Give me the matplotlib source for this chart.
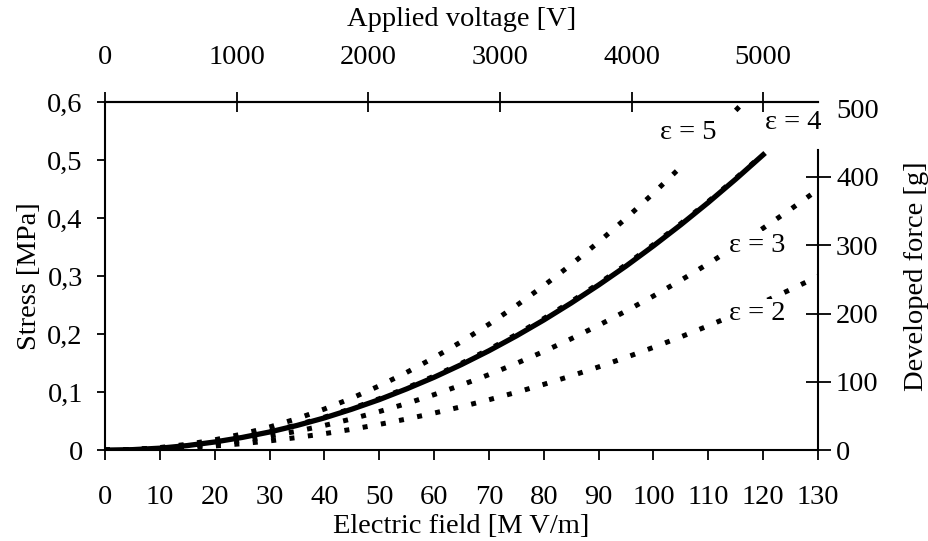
import numpy as np
import matplotlib
matplotlib.use('Agg')
import matplotlib.pyplot as plt

plt.rcParams['font.family'] = ['Liberation Serif', 'DejaVu Serif']
plt.rcParams['font.size'] = 20.5

# -------------------------------
# data (stress in MPa vs electric field in MV/m)
# -------------------------------
field = [0, 5, 10, 15, 20, 25, 30, 35, 40, 45, 50, 55, 60, 65,
         70, 75, 80, 85, 90, 95, 100, 105, 110, 115, 120, 125, 130]

stress_eps2 = [0, 0.0004, 0.0018, 0.0040, 0.0071, 0.0111, 0.0159, 0.0217, 0.0283,
               0.0359, 0.0443, 0.0536, 0.0638, 0.0748, 0.0868, 0.0996, 0.1133,
               0.1279, 0.1434, 0.1598, 0.1771, 0.1952, 0.2143, 0.2342, 0.2550,
               0.2767, 0.2993]
stress_eps3 = [0, 0.0007, 0.0027, 0.0060, 0.0106, 0.0166, 0.0239, 0.0325, 0.0425,
               0.0538, 0.0664, 0.0803, 0.0956, 0.1122, 0.1301, 0.1494, 0.1700,
               0.1919, 0.2151, 0.2397, 0.2656, 0.2928, 0.3214, 0.3512, 0.3825,
               0.4150, 0.4489]
stress_eps4 = [0, 0.0009, 0.0035, 0.0080, 0.0142, 0.0221, 0.0319, 0.0434, 0.0567,
               0.0717, 0.0885, 0.1071, 0.1275, 0.1496, 0.1735, 0.1992, 0.2267,
               0.2559, 0.2869, 0.3196, 0.3542, 0.3905, 0.4285, 0.4684, 0.5100]
stress_meas = [0, 0.0008, 0.0033, 0.0078, 0.0140, 0.0218, 0.0312, 0.0425, 0.0555,
               0.0705, 0.0870, 0.1055, 0.1255, 0.1475, 0.1712, 0.1968, 0.2242,
               0.2535, 0.2845, 0.3172, 0.3520, 0.3885, 0.4268, 0.4670, 0.5090]

field_eps5 = [0, 5, 10, 15, 20, 25, 30, 35, 40, 45, 50, 55, 60, 65,
              70, 75, 80, 85, 90, 95, 100, 105, 110, 115, 116.5]
stress_eps5 = [0, 0.0011, 0.0044, 0.0100, 0.0177, 0.0277, 0.0398, 0.0542, 0.0708,
               0.0896, 0.1107, 0.1339, 0.1594, 0.1870, 0.2169, 0.2490, 0.2833,
               0.3198, 0.3586, 0.3995, 0.4427, 0.4881, np.nan, 0.5855, 0.6000]

stress_ticks = [0, 0.1, 0.2, 0.3, 0.4, 0.5, 0.6]
stress_labels = ['0', '0,1', '0,2', '0,3', '0,4', '0,5', '0,6']
voltage_ticks = [0, 1000, 2000, 3000, 4000, 5000]
force_ticks = [0, 100, 200, 300, 400, 500]

volt_per_field = 5000 / 120      # 5000 V at 120 MV/m
mpa_per_100g = 0.1177            # 100 g of force per 0.1177 MPa

# -------------------------------
# plotting
# -------------------------------
fig = plt.figure(figsize=(9.29, 5.41), dpi=100)
ax = fig.add_axes([0.113, 0.168, 0.7675, 0.6435])

dot = dict(color='k', linewidth=3.6, linestyle=(0, (1.0, 2.7)))
ax.plot(field, stress_eps2, **dot)
ax.plot(field, stress_eps3, **dot)
ax.plot(field[:25], stress_eps4, **dot)
ax.plot(field_eps5, stress_eps5, **dot)
ax.plot(field[:25], stress_meas, color='k', linewidth=3.8)

# labels sit on a white patch, which clears the dots behind them
box = dict(facecolor='white', edgecolor='none', pad=1.5)
ax.text(106.3, 0.548, 'ε = 5', ha='center', va='center')
ax.text(125.4, 0.564, 'ε = 4', ha='center', va='center')
ax.text(118.9, 0.353, 'ε = 3', ha='center', va='center', bbox=box, zorder=5)
ax.text(118.9, 0.236, 'ε = 2', ha='center', va='center', bbox=box, zorder=5)

ax.set_xlim(0, 130)
ax.set_ylim(0, 0.6)
ax.set_xticks(range(0, 131, 10))
ax.set_yticks(stress_ticks)
ax.set_yticklabels(stress_labels)
ax.tick_params(axis='x', direction='out', length=7, width=1.3, pad=18)
ax.tick_params(axis='y', direction='out', length=6, width=1.3, pad=10)
ax.spines['right'].set_visible(False)
for s in ['left', 'bottom', 'top']:
    ax.spines[s].set_linewidth(1.5)
ax.set_xlabel('Electric field [M V/m]', labelpad=3)
ax.set_ylabel('Stress [MPa]', labelpad=4)

# top axis: applied voltage
top = ax.secondary_xaxis('top', functions=(lambda e: e * volt_per_field,
                                           lambda v: v / volt_per_field))
top.set_xticks(voltage_ticks)
top.tick_params(direction='inout', length=14, width=1.3, pad=16)
top.spines['top'].set_linewidth(1.5)
top.set_xlabel('Applied voltage [V]', labelpad=14)

# right axis: developed force
ax2 = ax.twinx()
ax2.set_ylim(0, 0.6 / mpa_per_100g * 100)
ax2.set_yticks(force_ticks)
for s in ['left', 'bottom', 'top']:
    ax2.spines[s].set_visible(False)
ax2.spines['right'].set_bounds(0, 440)
ax2.spines['right'].set_linewidth(1.5)
ax2.tick_params(axis='y', direction='inout', length=18, width=1.3, pad=4)
ax2.yaxis.get_major_ticks()[-1].tick2line.set_visible(False)
ax2.set_ylabel('Developed force [g]', labelpad=18)

fig.savefig('out.png', dpi=100)
